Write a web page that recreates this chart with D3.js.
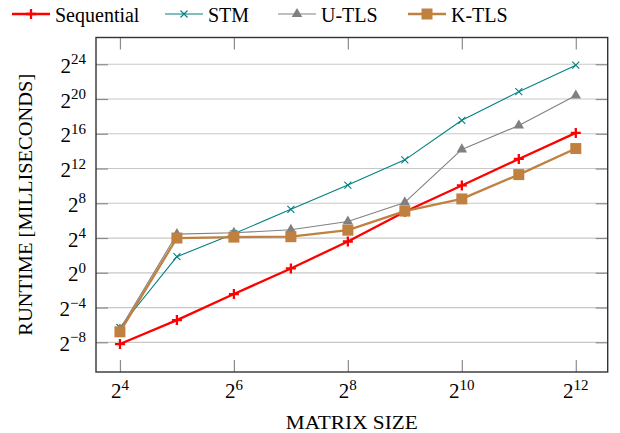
<!DOCTYPE html>
<html>
<head>
<meta charset="utf-8">
<script src="https://cdn.jsdelivr.net/npm/d3@7"></script>
<style>
body { margin: 0; background: #fff; }
svg text { font-family: "Liberation Serif", "DejaVu Serif", "Times New Roman", serif; fill: #000; }
</style>
</head>
<body>
<svg id="chart" width="620" height="433" font-family="Liberation Serif, DejaVu Serif, serif"></svg>
<script>
// matrix sizes (n x n)
var sizes = [16, 32, 64, 128, 256, 512, 1024, 2048, 4096];
// runtime in milliseconds
var sequential = [0.0034, 0.0229, 0.183, 1.414, 12.13, 130.7, 1060, 8780, 70240];
var stm = [0.0127, 3.61, 22.6, 157.6, 1098, 8192, 191900, 1890000, 15650000];
var utls = [0.0110, 21.9, 24.3, 30.9, 59.7, 274, 18820, 126600, 1384000];
var ktls = [0.0090, 16.0, 17.2, 17.8, 29.9, 137.2, 362, 2521, 20170];
var seriesNames = ["Sequential", "STM", "U-TLS", "K-TLS"];
var xTickExp = [4, 6, 8, 10, 12];
var yTickExp = [-8, -4, 0, 4, 8, 12, 16, 20, 24];

var svg = d3.select("#chart");

// plot box (window.top is reserved, so no "top" here)
var boxL = 96, boxR = 607.7, boxT = 37.5, boxB = 372;

var x = d3.scaleLog().base(2)
    .domain([Math.pow(2, 3.58), Math.pow(2, 12.56)])
    .range([boxL, boxR]);
var y = d3.scaleLog().base(2)
    .domain([Math.pow(2, -11.42), Math.pow(2, 27.08)])
    .range([boxB, boxT]);

var xTicks = xTickExp.map(function(e) { return Math.pow(2, e); });
var yTicks = yTickExp.map(function(e) { return Math.pow(2, e); });

//grid
svg.append("g").selectAll("line")
    .data(yTicks)
    .enter()
    .append("line")
    .attr("x1", boxL).attr("x2", boxR)
    .attr("y1", function(d) { return y(d); })
    .attr("y2", function(d) { return y(d); })
    .attr("stroke", "#c8c8c8")
    .attr("stroke-width", 1.2);

//inner ticks on all four sides
var tickLen = 12;
function tickStyle(g) {
    g.select(".domain").remove();
    g.selectAll(".tick line").attr("stroke", "#8c8c8c").attr("stroke-width", 1.2);
    g.selectAll(".tick text").remove();
}
svg.append("g").attr("transform", "translate(0," + boxB + ")")
    .call(d3.axisBottom(x).tickValues(xTicks).tickSize(-tickLen)).call(tickStyle);
svg.append("g").attr("transform", "translate(0," + boxT + ")")
    .call(d3.axisTop(x).tickValues(xTicks).tickSize(-tickLen)).call(tickStyle);
svg.append("g").attr("transform", "translate(" + boxL + ",0)")
    .call(d3.axisLeft(y).tickValues(yTicks).tickSize(-tickLen)).call(tickStyle);
svg.append("g").attr("transform", "translate(" + boxR + ",0)")
    .call(d3.axisRight(y).tickValues(yTicks).tickSize(-tickLen)).call(tickStyle);

//frame
svg.append("rect")
    .attr("x", boxL).attr("y", boxT)
    .attr("width", boxR - boxL).attr("height", boxB - boxT)
    .attr("fill", "none")
    .attr("stroke", "#333")
    .attr("stroke-width", 1.4);

// power-of-two labels
function powLabel(sel, e) {
    sel.append("tspan").text("2");
    sel.append("tspan")
        .attr("dy", -8.5)
        .attr("font-size", 15)
        .text(String(e).replace("-", "\u2212"));
}

svg.append("g").selectAll("text")
    .data(xTickExp)
    .enter()
    .append("text")
    .attr("x", function(e) { return x(Math.pow(2, e)); })
    .attr("y", 398)
    .attr("text-anchor", "middle")
    .attr("font-size", 21)
    .each(function(e) { powLabel(d3.select(this), e); });

svg.append("g").selectAll("text")
    .data(yTickExp)
    .enter()
    .append("text")
    .attr("x", 86)
    .attr("y", function(e) { return y(Math.pow(2, e)) + 8.5; })
    .attr("text-anchor", "end")
    .attr("font-size", 21)
    .each(function(e) { powLabel(d3.select(this), e); });

//axis titles
svg.append("text")
    .attr("x", (boxL + boxR) / 2)
    .attr("y", 429)
    .attr("text-anchor", "middle")
    .attr("font-size", 19)
    .attr("textLength", 132)
    .attr("lengthAdjust", "spacingAndGlyphs")
    .text("MATRIX SIZE");

svg.append("text")
    .attr("transform", "translate(32," + ((boxT + boxB) / 2) + ") rotate(-90)")
    .attr("text-anchor", "middle")
    .attr("font-size", 19)
    .attr("textLength", 262)
    .attr("lengthAdjust", "spacingAndGlyphs")
    .text("RUNTIME [MILLISECONDS]");

// markers
function plusPath(s) { return "M" + (-s) + ",0H" + s + "M0," + (-s) + "V" + s; }
function timesPath(s) { return "M" + (-s) + "," + (-s) + "L" + s + "," + s + "M" + (-s) + "," + s + "L" + s + "," + (-s); }

var series = [
    { name: seriesNames[0], values: sequential, color: "#ff0000", width: 2.3,
      mark: function(g) { g.append("path").attr("d", plusPath(5)).attr("stroke", "#ff0000").attr("stroke-width", 2.3).attr("fill", "none"); } },
    { name: seriesNames[1], values: stm, color: "#008080", width: 1.1,
      mark: function(g) { g.append("path").attr("d", timesPath(3.5)).attr("stroke", "#008080").attr("stroke-width", 1.1).attr("fill", "none"); } },
    { name: seriesNames[2], values: utls, color: "#808080", width: 1.1,
      mark: function(g) { g.append("path").attr("d", d3.symbol().type(d3.symbolTriangle).size(48)).attr("fill", "#808080"); } },
    { name: seriesNames[3], values: ktls, color: "#bf8040", width: 2.3,
      mark: function(g) { g.append("path").attr("d", d3.symbol().type(d3.symbolSquare).size(121)).attr("fill", "#bf8040"); } }
];

var line = d3.line()
    .x(function(d) { return x(d[0]); })
    .y(function(d) { return y(d[1]); });

series.forEach(function(s) {
    var pts = sizes.map(function(n, i) { return [n, s.values[i]]; });
    var g = svg.append("g");
    g.append("path")
        .datum(pts)
        .attr("d", line)
        .attr("fill", "none")
        .attr("stroke", s.color)
        .attr("stroke-width", s.width)
        .attr("stroke-linejoin", "round");
    g.selectAll("g.mk")
        .data(pts)
        .enter()
        .append("g")
        .attr("class", "mk")
        .attr("transform", function(d) { return "translate(" + x(d[0]) + "," + y(d[1]) + ")"; })
        .each(function() { s.mark(d3.select(this)); });
});

//legend
var legendX = [12, 165, 278, 408];
var legend = svg.append("g");
series.forEach(function(s, i) {
    var lg = legend.append("g").attr("transform", "translate(" + legendX[i] + ",14)");
    lg.append("line")
        .attr("x1", 0).attr("x2", 38)
        .attr("stroke", s.color)
        .attr("stroke-width", s.width);
    var m = lg.append("g").attr("transform", "translate(19,0)");
    s.mark(m);
    lg.append("text")
        .attr("x", 43)
        .attr("y", 8)
        .attr("font-size", 20)
        .text(s.name);
});
</script>
</body>
</html>
